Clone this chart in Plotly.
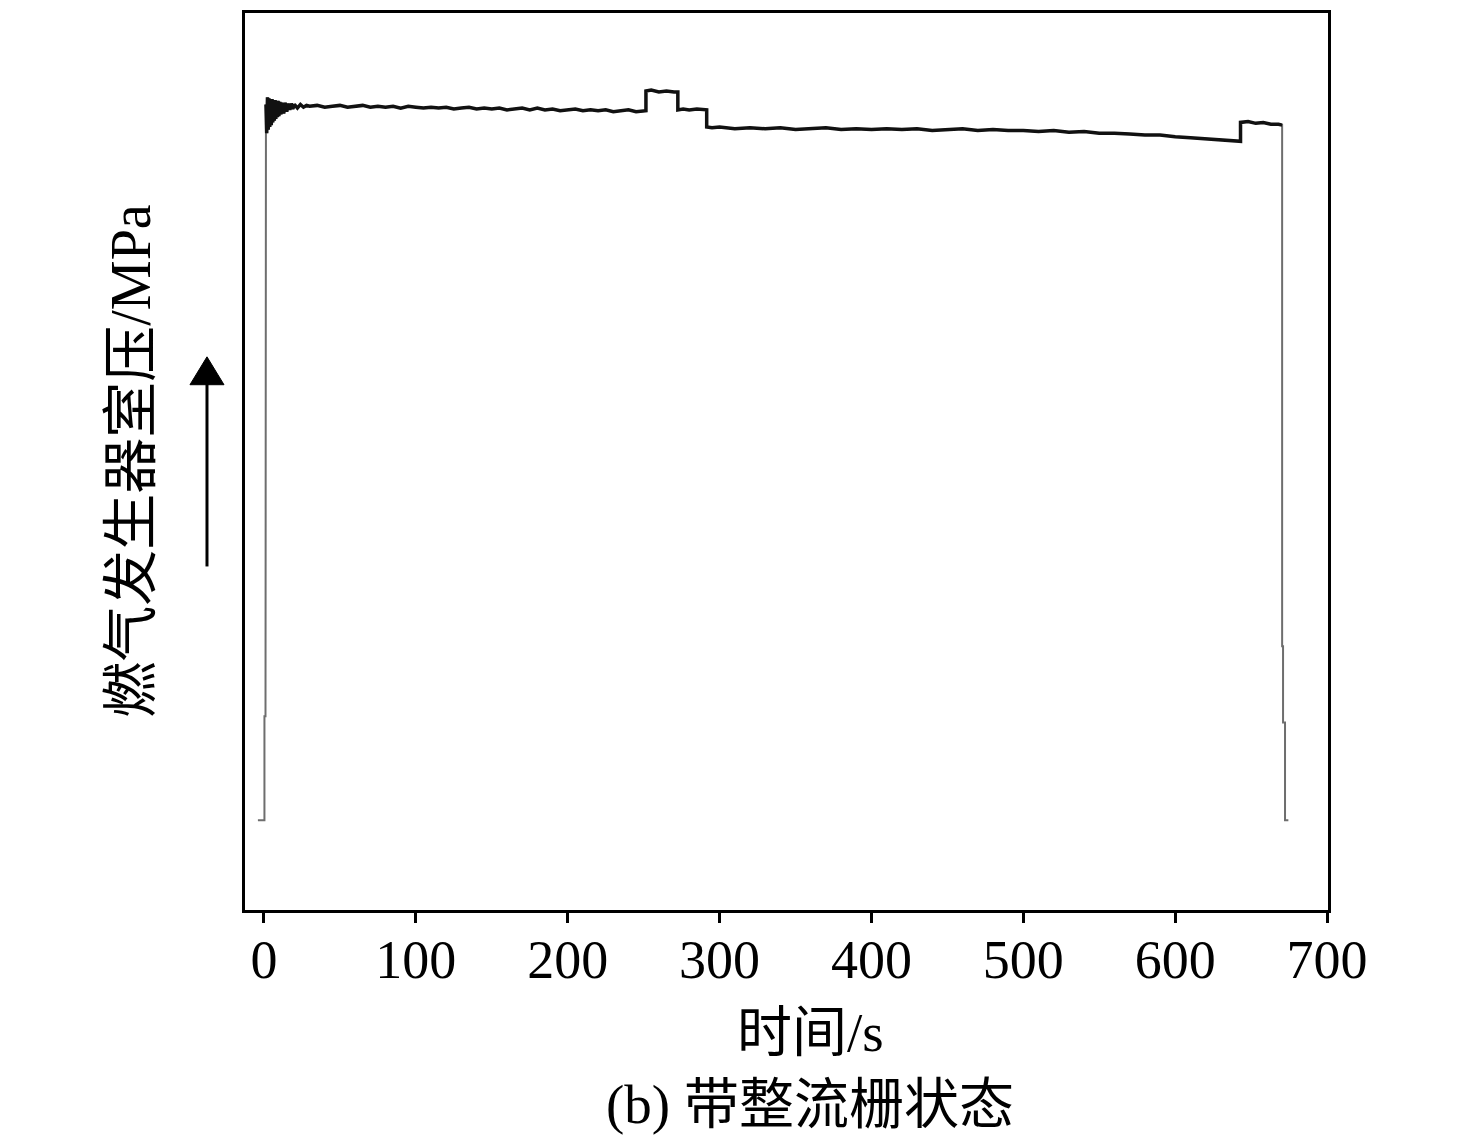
import plotly.graph_objects as go

# time (s) and chamber pressure (arbitrary units; no y tick values shown)
time = [-4, 0.3, 0.3, 1.0, 1.3,
        1.8, 2.3, 2.8, 3.3, 3.8, 4.3, 4.8, 5.3, 5.8, 6.3, 6.8, 7.3, 7.8, 8.3, 8.8,
        9.3, 9.8, 10.5, 11.2, 12, 13, 14, 15, 16, 17, 18, 19, 20, 22, 24, 26, 28, 30,
        35, 40, 45, 50, 55, 60, 65, 70, 75, 80, 85, 90, 95, 100, 105, 110, 115, 120,
        125, 130, 135, 140, 145, 150, 155, 160, 165, 170, 175, 180, 185, 190, 195, 200,
        205, 210, 215, 220, 225, 230, 235, 240, 245, 250,
        251.5, 251.5, 255, 260, 265, 270, 272.5, 272.5, 276, 280, 285, 291.5, 291.5, 295, 300,
        310, 320, 330, 340, 350, 360, 370, 380, 390, 400, 410, 420, 430, 440, 450, 460,
        470, 480, 490, 500, 510, 520, 530, 540, 550, 560, 570, 580, 590, 600, 610, 620,
        630, 640, 643, 643, 648, 653, 658, 663, 668, 670.4,
        670.4, 671, 671, 672.3, 672.3, 674.5]
pressure = [1.0, 1.0, 2.16, 2.16, 8.98,
            8.66, 9.06, 8.70, 9.05, 8.73, 9.04, 8.75, 9.04, 8.78, 9.03, 8.80, 9.03, 8.82, 9.02, 8.84,
            9.02, 8.85, 9.01, 8.87, 9.00, 8.88, 9.00, 8.90, 8.99, 8.92, 8.99, 8.93, 8.98, 8.94, 8.98, 8.95, 8.97, 8.96,
            8.97, 8.95, 8.96, 8.97, 8.95, 8.96, 8.97, 8.95, 8.96, 8.95, 8.96, 8.94, 8.96, 8.95, 8.94, 8.95, 8.94, 8.95,
            8.93, 8.94, 8.95, 8.93, 8.94, 8.93, 8.94, 8.92, 8.93, 8.94, 8.92, 8.94, 8.92, 8.93, 8.91, 8.92,
            8.93, 8.91, 8.92, 8.91, 8.92, 8.90, 8.91, 8.92, 8.90, 8.91,
            8.91, 9.13, 9.14, 9.12, 9.13, 9.12, 9.12, 8.92, 8.93, 8.92, 8.93, 8.92, 8.73, 8.72, 8.73,
            8.71, 8.72, 8.71, 8.72, 8.70, 8.71, 8.72, 8.70, 8.71, 8.70, 8.71, 8.70, 8.71, 8.69, 8.70, 8.71,
            8.69, 8.70, 8.69, 8.69, 8.68, 8.69, 8.67, 8.68, 8.66, 8.66, 8.65, 8.64, 8.64, 8.62, 8.61, 8.60,
            8.59, 8.58, 8.57, 8.78, 8.79, 8.77, 8.78, 8.76, 8.76, 8.75,
            2.94, 2.94, 2.09, 2.09, 1.0, 1.0]

x_ticks = [0, 100, 200, 300, 400, 500, 600, 700]
x_title = "时间/s"
y_title = "燃气发生器室压/MPa"
caption = "(b) 带整流栅状态"

SERIF = "Liberation Serif, Noto Sans CJK SC, serif"

fig = go.Figure()
# full record (thin grey vertical transients)
fig.add_trace(go.Scatter(x=time, y=pressure, mode="lines",
                         line=dict(color="#6e6e6e", width=2), showlegend=False, hoverinfo="skip"))
# steady operation part in black
fig.add_trace(go.Scatter(x=time[4:-6], y=pressure[4:-6], mode="lines",
                         line=dict(color="#111111", width=3.5), showlegend=False))

fig.update_layout(
    width=1476, height=1144,
    margin=dict(l=237, r=156, t=2, b=242),
    paper_bgcolor="white", plot_bgcolor="white",
    font=dict(family=SERIF, size=54, color="black"),
    xaxis=dict(range=[-12.5, 700.6], tickvals=x_ticks, ticktext=[str(v) for v in x_ticks],
               ticks="outside", ticklen=10, tickwidth=3, tickcolor="black",
               ticklabelstandoff=-10,
               showline=True, linewidth=3, linecolor="black", mirror=True,
               showgrid=False, zeroline=False,
               tickfont=dict(family=SERIF, size=54, color="black")),
    yaxis=dict(range=[0, 10], showticklabels=False, ticks="",
               showline=True, linewidth=3, linecolor="black", mirror=True,
               showgrid=False, zeroline=False),
    annotations=[
        dict(text=x_title, xref="paper", yref="paper", x=0.5217, y=-0.1367,
             showarrow=False, xanchor="center", yanchor="middle",
             font=dict(family=SERIF, size=55, color="black")),
        dict(text=caption, xref="paper", yref="paper", x=0.5217, y=-0.2167,
             showarrow=False, xanchor="center", yanchor="middle",
             font=dict(family=SERIF, size=55, color="black")),
        dict(text=y_title, xref="paper", yref="paper", x=-0.106, y=0.5,
             showarrow=False, xanchor="center", yanchor="middle", textangle=-90,
             font=dict(family=SERIF, size=56, color="black")),
    ],
    shapes=[
        dict(type="line", xref="paper", yref="paper", x0=-0.0351, x1=-0.0351, y0=0.383, y1=0.59,
             line=dict(color="black", width=3)),
        dict(type="path", xref="paper", yref="paper",
             path="M -0.0351 0.6167 L -0.0508 0.5856 L -0.0194 0.5856 Z",
             fillcolor="black", line=dict(color="black", width=1)),
    ],
)

fig.write_html("out.html")
